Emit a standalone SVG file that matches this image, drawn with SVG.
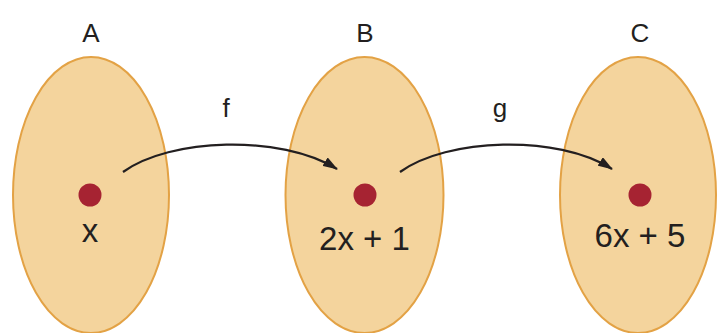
<svg xmlns="http://www.w3.org/2000/svg" width="717" height="333" viewBox="0 0 717 333">
<style>
.set{fill:#F4D49D;stroke:#E3A245;stroke-width:2}
.dot{fill:#A62332}
.t{font-family:"Liberation Sans",Arial,sans-serif;fill:#231F20;text-anchor:middle}
.lbl{font-size:26px}
.val{font-size:33px}
.arr{fill:none;stroke:#231F20;stroke-width:2.2}
</style>
<defs>
<marker id="ah" markerWidth="16" markerHeight="10" refX="14" refY="5" orient="auto" markerUnits="userSpaceOnUse">
<path d="M0,0 L15,5 L0,10 Z" fill="#231F20"/>
</marker>
</defs>
<rect width="717" height="333" fill="#fff"/>
<g id="A">
<ellipse class="set" cx="91" cy="195" rx="78" ry="138"/>
<text class="t lbl" x="91" y="42">A</text>
<circle class="dot" cx="90" cy="195" r="11.5"/>
<text class="t val" x="90" y="242">x</text>
</g>
<g id="B">
<ellipse class="set" cx="364.5" cy="195" rx="79" ry="138"/>
<text class="t lbl" x="365" y="42">B</text>
<circle class="dot" cx="365" cy="195" r="11.5"/>
<text class="t val" x="364.5" y="250">2x + 1</text>
</g>
<g id="C">
<ellipse class="set" cx="638" cy="195" rx="78" ry="138"/>
<text class="t lbl" x="640" y="42">C</text>
<circle class="dot" cx="640" cy="195" r="11.5"/>
<text class="t val" x="640" y="247">6x + 5</text>
</g>
<g id="connectors">
<path class="arr" d="M123,172 C170,138 280,134 337,169" marker-end="url(#ah)"/>
<text class="t lbl" x="226" y="117">f</text>
<path class="arr" d="M400,172 C447,138 557,134 612,169" marker-end="url(#ah)"/>
<text class="t lbl" x="500" y="117">g</text>
</g>
</svg>
